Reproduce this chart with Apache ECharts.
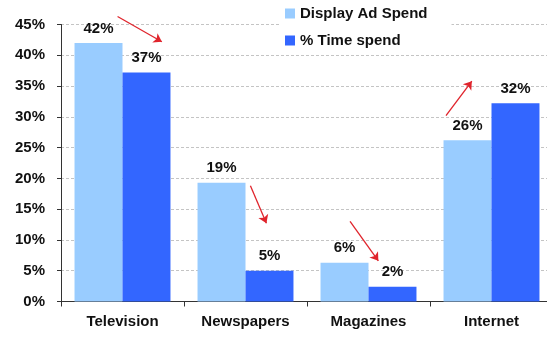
<!DOCTYPE html>
<html>
<head>
<meta charset="utf-8">
<script src="https://cdn.jsdelivr.net/npm/echarts@6/dist/echarts.min.js"></script>
<style>
  html, body { margin: 0; padding: 0; background: #fff; }
  #chart { width: 547px; height: 337px; }
</style>
</head>
<body>
<div id="chart"></div>
<script>
// Media categories and the two shares compared for each
const categories = ['Television', 'Newspapers', 'Magazines', 'Internet'];
const adSpend = [42, 19.3, 6.3, 26.2];
const timeSpent = [37.2, 5, 2.4, 32.2];
const seriesNames = ['Display Ad Spend', '% Time spend'];
const yTicks = [0, 5, 10, 15, 20, 25, 30, 35, 40, 45];

// Red trend arrows: [category position, value] start -> end
const arrowTV = [[-0.04, 46.3], [0.32, 42.2]];
const arrowNews = [[1.04, 18.8], [1.17, 12.7]];
const arrowMag = [[1.85, 13.0], [2.08, 6.6]];
const arrowNet = [[2.63, 30.2], [2.84, 35.8]];

const FONT = '"Liberation Sans", Arial, sans-serif';
const chart = echarts.init(document.getElementById('chart'), null, { renderer: 'canvas' });

const labelStyle = {
  show: true,
  position: 'top',
  distance: 7,
  fontFamily: FONT,
  fontWeight: 'bold',
  fontSize: 15,
  color: '#111',
  formatter: p => Math.round(p.value) + '%'
};

chart.setOption({
  animation: false,
  backgroundColor: '#fff',
  grid: { left: 61, top: 24.5, width: 492, height: 277, containLabel: false, outerBoundsMode: 'none' },
  legend: {
    data: seriesNames,
    orient: 'vertical',
    left: 280,
    top: 2,
    padding: [4, 24, 4, 5],
    backgroundColor: '#fff',
    itemWidth: 10,
    itemHeight: 10,
    itemGap: 12,
    icon: 'rect',
    textStyle: { fontFamily: FONT, fontWeight: 'bold', fontSize: 15, color: '#111' },
    z: 10
  },
  xAxis: [
    {
      type: 'category',
      data: categories,
      axisLine: { onZero: false, lineStyle: { color: '#333', width: 1 } },
      axisTick: { show: true, length: 5, lineStyle: { color: '#333' } },
      axisLabel: { margin: 13, fontFamily: FONT, fontWeight: 'bold', fontSize: 15, color: '#111' }
    },
    { type: 'value', min: -0.5, max: 3.5, show: false }
  ],
  yAxis: {
    type: 'value',
    min: yTicks[0],
    max: yTicks[yTicks.length - 1],
    interval: yTicks[1] - yTicks[0],
    axisLine: { show: true, onZero: false, lineStyle: { color: '#333', width: 1 } },
    axisTick: { show: true, length: 4, lineStyle: { color: '#333' } },
    axisLabel: { margin: 16, fontFamily: FONT, fontWeight: 'bold', fontSize: 15, color: '#111', formatter: v => v + '%' },
    splitLine: { show: true, lineStyle: { color: '#c4c4c4', type: [3, 2], width: 1 } }
  },
  series: [
    {
      name: seriesNames[0],
      type: 'bar',
      data: adSpend,
      barGap: '0%',
      barCategoryGap: '22%',
      itemStyle: { color: '#99CCFF' },
      label: labelStyle
    },
    {
      name: seriesNames[1],
      type: 'bar',
      data: timeSpent,
      itemStyle: { color: '#3366FF' },
      label: labelStyle
    },
    {
      name: 'arrows',
      type: 'lines',
      coordinateSystem: 'cartesian2d',
      xAxisIndex: 1,
      yAxisIndex: 0,
      clip: false,
      symbol: ['none', 'arrow'],
      symbolSize: 8,
      lineStyle: { color: '#E0242C', width: 1.3, opacity: 1, curveness: 0 },
      data: [arrowTV, arrowNews, arrowMag, arrowNet].map(c => ({ coords: c })),
      z: 5
    }
  ]
});
</script>
</body>
</html>
